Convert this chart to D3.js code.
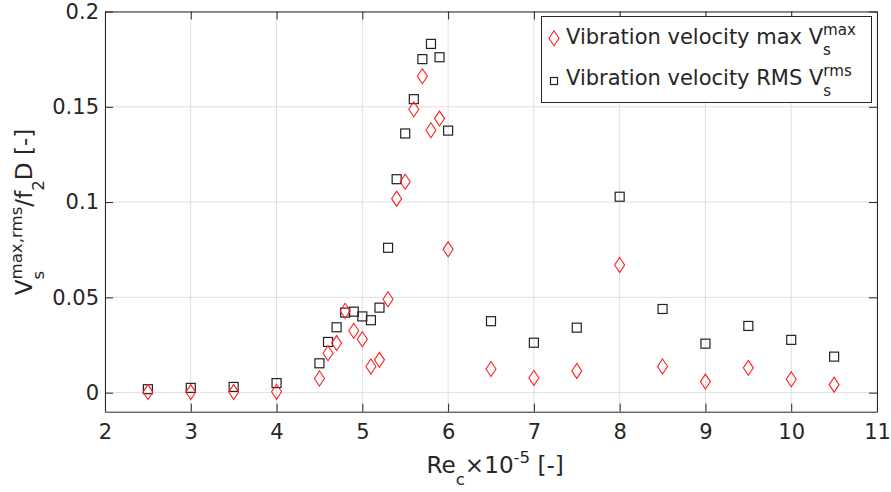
<!DOCTYPE html>
<html><head><meta charset="utf-8">
<script src="https://cdn.jsdelivr.net/npm/d3@7"></script>
<style>body{margin:0;background:#fff}svg{display:block}text{font-family:"DejaVu Sans",sans-serif;fill:#262626}</style>
</head><body><svg id="c" width="891" height="492"></svg>
<script>
const reynolds = [2.5,3.0,3.5,4.0,4.5,4.6,4.7,4.8,4.9,5.0,5.1,5.2,5.3,5.4,5.5,5.6,5.7,5.8,5.9,6.0,6.5,7.0,7.5,8.0,8.5,9.0,9.5,10.0,10.5];
const vMax = [0.0003,0.0003,0.0003,0.0005,0.0074,0.0207,0.026,0.043,0.0325,0.028,0.0137,0.0172,0.049,0.1018,0.1107,0.1487,0.166,0.1377,0.1438,0.0752,0.0124,0.0077,0.0114,0.067,0.0137,0.0058,0.013,0.007,0.0042];
const vRms = [0.0018,0.0025,0.003,0.005,0.0154,0.0266,0.0343,0.042,0.0425,0.040,0.038,0.0446,0.076,0.112,0.136,0.154,0.175,0.183,0.176,0.1375,0.0375,0.0262,0.0341,0.1028,0.0439,0.0257,0.035,0.0277,0.0189];
const xTicks = [2,3,4,5,6,7,8,9,10,11];
const yTicks = [0,0.05,0.1,0.15,0.2];
const yTickLabels = ["0","0.05","0.1","0.15","0.2"];

const svg = d3.select("#c");
const L=105, R=877, T=11.5, B=411.7;
const x = d3.scaleLinear().domain([2,11]).range([L,R]);
const y = d3.scaleLinear().domain([-0.01,0.2]).range([B,T]);
const axCol="#262626", FS=21, LFS=23.1;

// grid
const grid = svg.append("g").attr("stroke","#dfdfdf").attr("stroke-width",1);
xTicks.forEach(t=>grid.append("line").attr("x1",x(t)).attr("x2",x(t)).attr("y1",T).attr("y2",B));
yTicks.forEach(t=>grid.append("line").attr("x1",L).attr("x2",R).attr("y1",y(t)).attr("y2",y(t)));

// axes
const tl=8;
const gx = svg.append("g").attr("transform",`translate(0,${B})`)
  .call(d3.axisBottom(x).tickValues(xTicks).tickSizeInner(-tl).tickSizeOuter(0).tickPadding(12).tickFormat(d3.format("d")));
const gxt = svg.append("g").attr("transform",`translate(0,${T})`)
  .call(d3.axisTop(x).tickValues(xTicks).tickSizeInner(-tl).tickSizeOuter(0).tickFormat(""));
const gy = svg.append("g").attr("transform",`translate(${L},0)`)
  .call(d3.axisLeft(y).tickValues(yTicks).tickSizeInner(-tl).tickSizeOuter(0).tickPadding(6).tickFormat((d,i)=>yTickLabels[i]));
const gyr = svg.append("g").attr("transform",`translate(${R},0)`)
  .call(d3.axisRight(y).tickValues(yTicks).tickSizeInner(-tl).tickSizeOuter(0).tickFormat(""));
[gx,gxt,gy,gyr].forEach(g=>{
  g.selectAll("path,line").attr("stroke",axCol).attr("stroke-width",1);
  g.selectAll("text").attr("font-size",FS).attr("fill",axCol).style("font-family","DejaVu Sans");
});

// markers
const diamond = (cx,cy)=>`M${cx},${cy-7.5}L${cx+5},${cy}L${cx},${cy+7.5}L${cx-5},${cy}Z`;
const gm = svg.append("g");
gm.selectAll(".rms").data(reynolds).join("rect")
  .attr("x",(d,i)=>x(d)-4.5).attr("y",(d,i)=>y(vRms[i])-4.5).attr("width",9).attr("height",9)
  .attr("fill","none").attr("stroke","#222").attr("stroke-width",1.2);
gm.selectAll(".max").data(reynolds).join("path")
  .attr("d",(d,i)=>diamond(x(d),y(vMax[i])))
  .attr("fill","none").attr("stroke","#ff2020").attr("stroke-width",1.1);

// rich text helper
function rich(g, x0, y0, parts, fs, anchor){
  const t = g.append("text").attr("font-size",fs).attr("x",0).attr("y",0);
  let cx=0, lastStart=0;
  const meas = (str,size)=>{const m=g.append("text").attr("font-size",size).text(str);const w=m.node().getComputedTextLength();m.remove();return w;};
  parts.forEach(p=>{
    const size = p.s? fs*0.72 : fs;
    let px = p.stack? lastStart : cx;
    const dy = p.s==='sup'? -fs*0.42 : p.s==='sub'? fs*0.5 : 0;
    t.append("tspan").attr("x",px).attr("y",dy).attr("font-size",size).text(p.t);
    const w = meas(p.t,size);
    if(!p.stack){ lastStart=cx; cx+=w; } else { cx=Math.max(cx,px+w); }
  });
  const off = anchor==="middle"? -cx/2 : 0;
  t.attr("transform",`translate(${x0+off},${y0})`);
  return t;
}

// legend
const lg = svg.append("g");
lg.append("rect").attr("x",541.5).attr("y",16.5).attr("width",330).attr("height",86).attr("fill","#fff").attr("stroke",axCol).attr("stroke-width",1);
lg.append("path").attr("d",diamond(554,38.3)).attr("fill","none").attr("stroke","#ff2020").attr("stroke-width",1.1);
lg.append("rect").attr("x",550.5).attr("y",77.5).attr("width",7).attr("height",7).attr("fill","none").attr("stroke","#222").attr("stroke-width",1.2);
rich(lg,566,44,[{t:"Vibration velocity max V"},{t:"s",s:"sub"},{t:"max",s:"sup",stack:true}],FS,"start");
rich(lg,566,85,[{t:"Vibration velocity RMS V"},{t:"s",s:"sub"},{t:"rms",s:"sup",stack:true}],FS,"start");

// x label
rich(svg,491.5,473,[{t:"Re"},{t:"c",s:"sub"},{t:"×10"},{t:"-5",s:"sup"},{t:" [-]"}],LFS,"middle");
// y label
const yl = svg.append("g").attr("transform","translate(32,212) rotate(-90)");
rich(yl,0,0,[{t:"V"},{t:"s",s:"sub"},{t:"max,rms",s:"sup",stack:true},{t:"/f"},{t:"2",s:"sub"},{t:"D [-]"}],LFS,"middle");
</script></body></html>
